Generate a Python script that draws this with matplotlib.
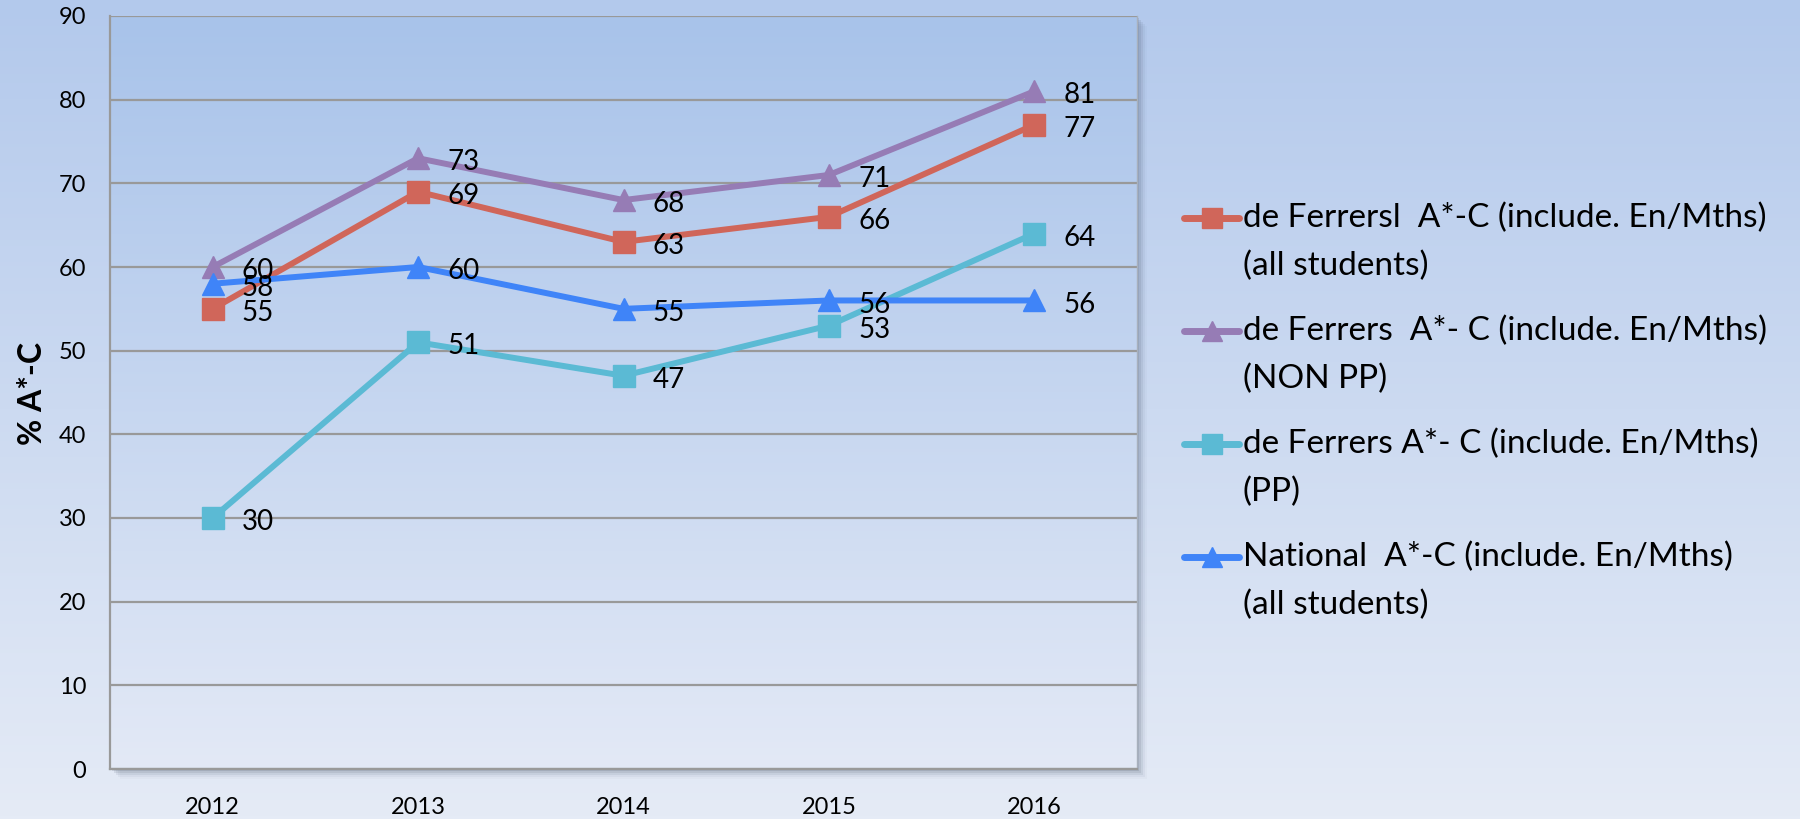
import numpy as np
import matplotlib.pyplot as plt
from matplotlib.patches import Rectangle
from matplotlib.colors import LinearSegmentedColormap

plt.rcParams['font.family'] = ['Lato', 'DejaVu Sans']

years = ['2012', '2013', '2014', '2015', '2016']
all_students = [55, 69, 63, 66, 77]
non_pp = [60, 73, 68, 71, 81]
pp = [30, 51, 47, 53, 64]
national = [58, 60, 55, 56, 56]

series = [
    ("de Ferrersl  A*-C (include. En/Mths)", "(all students)", all_students, '#d0665a', 's'),
    ("de Ferrers  A*- C (include. En/Mths)", "(NON PP)", non_pp, '#967cb5', '^'),
    ("de Ferrers A*- C (include. En/Mths)", "(PP)", pp, '#5bbad4', 's'),
    ("National  A*-C (include. En/Mths)", "(all students)", national, '#3f84f8', '^'),
]

W, H = 1800, 819
fig = plt.figure(figsize=(W / 100, H / 100), dpi=100)

# figure background gradient
bg = fig.add_axes([0, 0, 1, 1], zorder=-10)
bg_cmap = LinearSegmentedColormap.from_list('bg', ['#b3c9ec', '#e5ebf6'])
bg.imshow(np.linspace(0, 1, 256).reshape(-1, 1), cmap=bg_cmap, aspect='auto',
          extent=[0, 1, 0, 1])
bg.axis('off')

l, b, r, t = 110 / W, 1 - 769 / H, 1137 / W, 1 - 16 / H
# soft shadow behind the plot area
for d, a in [(2, 0.16), (4, 0.12), (6, 0.09), (8, 0.06), (10, 0.03)]:
    fig.patches.append(Rectangle((l + d / W, b - d / H), r - l, t - b,
                                 transform=fig.transFigure, color='#4a5870',
                                 alpha=a, zorder=-5, lw=0))

ax = fig.add_axes([l, b, r - l, t - b])
x = np.arange(len(years))
ax_cmap = LinearSegmentedColormap.from_list('ax', ['#a8c3ea', '#e3e9f6'])
ax.imshow(np.linspace(0, 1, 256).reshape(-1, 1), cmap=ax_cmap, aspect='auto',
          extent=[-0.5, 4.5, 0, 90], zorder=-1)

for name1, name2, vals, col, mk in series:
    ax.plot(x, vals, color=col, lw=4.3, marker=mk, markersize=15.5,
            markeredgecolor=col, zorder=3)
    for xi, v in zip(x, vals):
        ax.annotate(str(v), (xi, v), xytext=(21, -3), textcoords='offset points',
                    ha='left', va='center', fontsize=20, color='black', zorder=4)

ax.set_xlim(-0.5, 4.5)
ax.set_ylim(0, 90)
ax.set_xticks(x)
ax.set_xticklabels(years)
ax.set_yticks(range(0, 91, 10))
ax.tick_params(length=0, labelsize=17, colors='black')
ax.tick_params(axis='y', pad=17)
ax.tick_params(axis='x', pad=20)
ax.yaxis.grid(True, color='#999999', lw=1.6, zorder=1)
ax.set_axisbelow(True)
for s in ['left', 'bottom']:
    ax.spines[s].set_color('#999999')
    ax.spines[s].set_linewidth(1.6)
ax.spines['top'].set_visible(False)
ax.spines['right'].set_color('#a8b0bc')
ax.spines['right'].set_linewidth(1.0)

fig.text(32 / W, 1 - 393 / H, '% A*-C', rotation=90, ha='center', va='center',
         fontsize=23, fontweight='bold')

# legend drawn in pixel coordinates
lax = fig.add_axes([0, 0, 1, 1], zorder=5)
lax.set_xlim(0, W)
lax.set_ylim(H, 0)
lax.axis('off')
row_y = [218, 331, 444, 557]
for (name1, name2, vals, col, mk), yy in zip(series, row_y):
    lax.plot([1184, 1239], [yy, yy], color=col, lw=5, solid_capstyle='round')
    lax.plot([1212], [yy], marker=mk, color=col, markersize=14, markeredgecolor=col)
    lax.text(1243, yy, name1, ha='left', va='center', fontsize=24)
    lax.text(1243, yy + 48, name2, ha='left', va='center', fontsize=24)

fig.savefig('out.png', dpi=100)
